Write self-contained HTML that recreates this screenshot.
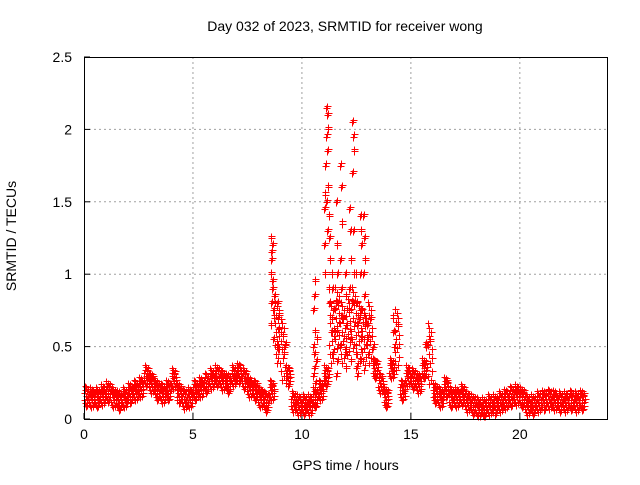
<!DOCTYPE html>
<html><head><meta charset="utf-8"><style>
body{margin:0;background:#fff}
svg{font-family:"Liberation Sans",Arial,sans-serif;font-size:14px}
</style></head><body>
<svg id="c" width="640" height="480"></svg>
<script>
const binStart=0, binWidth=0.25;
const baseline=[0.16,0.15,0.15,0.17,0.19,0.15,0.13,0.15,0.18,0.2,0.22,0.3,0.25,0.2,0.18,0.2,0.28,0.18,0.14,0.15,0.2,0.22,0.25,0.28,0.3,0.27,0.25,0.3,0.32,0.28,0.22,0.2,0.15,0.12,0.2,0.6,0.48,0.3,0.12,0.1,0.1,0.1,0.15,0.2,0.3,0.6,0.7,0.6,0.65,0.7,0.6,0.55,0.6,0.35,0.25,0.15,0.35,0.55,0.2,0.3,0.28,0.25,0.35,0.45,0.18,0.15,0.22,0.15,0.15,0.17,0.12,0.1,0.08,0.08,0.1,0.1,0.12,0.14,0.16,0.17,0.15,0.1,0.1,0.12,0.13,0.14,0.13,0.12,0.12,0.13,0.12,0.13];
const spikeTimes=[8.6,8.7,8.9,9.2,10.55,10.65,11.05,11.15,11.25,11.4,11.6,11.8,12.0,12.2,12.35,12.5,12.7,12.85,13.0,13.3,14.2,15.7];
const spikeValues=[[0.65,0.8,0.9,1.0,1.1,1.2,1.25,1.15,0.95],[0.55,0.7,0.85,0.75],[0.5,0.62,0.72,0.8,0.48],[0.45,0.5,0.52],[0.3,0.45,0.6,0.75,0.85,0.95,0.5,0.35],[0.25,0.4,0.55],[1.45,1.55,1.75,1.2,1.0],[2.15,2.1,2.0,1.95,1.85,1.6,1.5,1.3],[1.4,1.25,1.1,0.9,0.8],[1.0,0.9,0.75,0.6,0.45],[1.5,1.2,1.0,0.8,0.6,0.4,0.3],[1.75,1.6,1.35,1.1,0.9,0.7,0.5],[1.0,0.85,0.65,0.45,0.35],[1.45,1.3,1.1,0.9,0.55,0.4],[2.05,1.95,1.85,1.7,1.3,1.0,0.8],[1.0,0.8,0.65,0.45,0.35,0.3],[1.4,1.3,1.2,1.0,0.75,0.55,0.4],[1.4,1.25,1.1,1.0,0.85,0.7],[0.65,0.55,0.45],[0.5,0.4],[0.7,0.6,0.5],[0.52,0.5]];
const xTicks=[0,5,10,15,20];
const yTicks=[0,0.5,1,1.5,2,2.5];
const yTickLabels=["0","0.5","1","1.5","2","2.5"];

const L=84,R=607,T=57,B=419;
const xs=v=>L+(v/24)*(R-L);
const ys=v=>B-(v/2.5)*(B-T);
const svg=document.getElementById('c');
const NS='http://www.w3.org/2000/svg';
function mk(tag,attrs,parent){const e=document.createElementNS(NS,tag);for(const k in attrs)e.setAttribute(k,attrs[k]);(parent||svg).appendChild(e);return e;}

for(const t of xTicks){ if(t>0){const g=mk('line',{x1:xs(t),x2:xs(t),y1:T,y2:B,stroke:'#a0a0a0','stroke-dasharray':'2,3'});

}
 const tk=mk('line',{x1:xs(t),x2:xs(t),y1:B,y2:B-6,stroke:'#000'});
 
 
 const tx=mk('text',{x:xs(t),y:B+20,'text-anchor':'middle'});tx.textContent=t;
 
 }
yTicks.forEach((t,i)=>{ if(t>0&&t<2.5){const g=mk('line',{x1:L,x2:R,y1:ys(t),y2:ys(t),stroke:'#a0a0a0','stroke-dasharray':'2,3'});
 
 }
 const tk=mk('line',{x1:L,x2:L+6,y1:ys(t),y2:ys(t),stroke:'#000'});
 
 
 const tx=mk('text',{x:L-12,y:ys(t)+5,'text-anchor':'end'});tx.textContent=yTickLabels[i];
 
 });

const g=mk('g',{stroke:'#ff0000','stroke-width':1,fill:'none','shape-rendering':'crispEdges'});


let d='';
function cross(t,v){const x=Math.round(xs(t))+0.5,y=Math.round(ys(v))+0.5;d+=`M${x-3},${y}h7M${x},${y-3}v7`;}
const jt=[0,0.02,0.04,0.06,0.08,0.1,0.12,0.14,0.16,0.18,0.2,0.22,0.03,0.09,0.15,0.21];
const jv=[-0.03,0.02,-0.05,0.04,0,0.06,-0.02,0.03,-0.06,0.05,-0.01,0.01,0.07,-0.07,0.035,-0.04];
baseline.forEach((v,i)=>{const t0=binStart+i*binWidth;for(let k=0;k<jt.length;k++)cross(t0+jt[k],Math.max(0.02,v+jv[k]*(v>0.4?3:1)));});
spikeTimes.forEach((t,i)=>spikeValues[i].forEach((v,j)=>{cross(t+(j%3-1)*0.03,v);cross(t+(j%3)*0.03,v+0.015);}));
const p=mk('path',{d:d},g);



const fr=mk('rect',{x:L+0.5,y:T+0.5,width:R-L,height:B-T,fill:'none',stroke:'#000'});


</script>
<div style="position:absolute;left:0;top:0;width:640px;height:480px;pointer-events:none;font-family:'Liberation Sans',Arial,sans-serif;font-size:14px">
<div style="position:absolute;left:0;width:690px;top:18px;text-align:center">Day 032 of 2023, SRMTID for receiver wong</div>
<div style="position:absolute;left:84px;width:523px;top:457px;text-align:center">GPS time / hours</div>
<div style="position:absolute;left:-64px;top:228px;width:150px;text-align:center;transform:rotate(-90deg)">SRMTID / TECUs</div>
</div>
</body></html>
